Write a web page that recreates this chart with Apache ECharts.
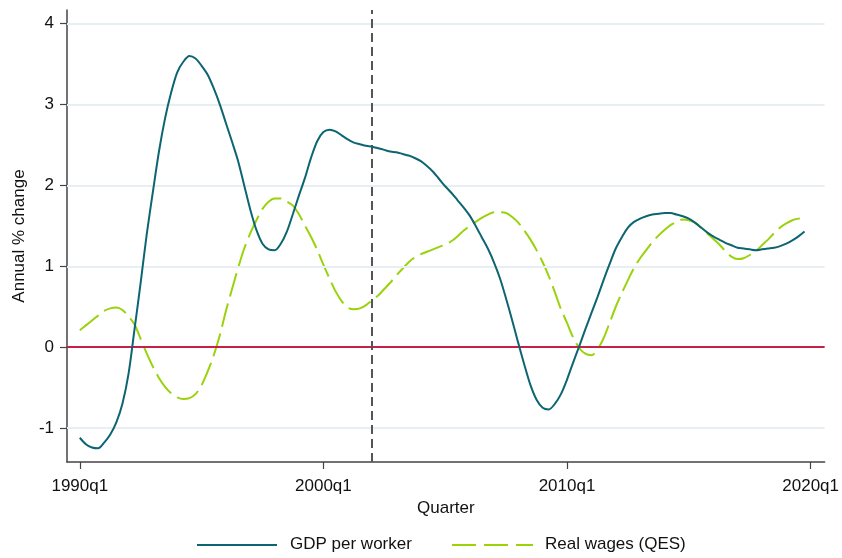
<!DOCTYPE html>
<html>
<head>
<meta charset="utf-8">
<script src="https://cdn.jsdelivr.net/npm/echarts@6/dist/echarts.min.js"></script>
<style>
html,body{margin:0;padding:0;background:#fff;}
#chart{width:842px;height:558px;}
</style>
</head>
<body>
<div id="chart"></div>
<script>
// Quarter index 0 = 1990q1
const startYear = 1990;
const tickQuarters = [0, 40, 80, 120];
const yTicks = [-1, 0, 1, 2, 3, 4];
const markerQuarter = 48; // 2002q1
const seriesNames = ['GDP per worker', 'Real wages (QES)'];

const gdpPerWorker = [
  -1.12,-1.20,-1.24,-1.25,-1.18,-1.08,-0.93,-0.70,-0.33,0.23,
  0.80,1.40,1.92,2.42,2.83,3.15,3.40,3.53,3.60,3.57,
  3.48,3.37,3.20,3.00,2.77,2.54,2.30,2.00,1.70,1.45,
  1.28,1.21,1.20,1.28,1.43,1.65,1.88,2.10,2.35,2.55,
  2.66,2.69,2.67,2.62,2.57,2.53,2.51,2.49,2.48,2.46,
  2.44,2.42,2.41,2.39,2.37,2.34,2.30,2.24,2.17,2.08,
  1.99,1.91,1.82,1.73,1.63,1.50,1.36,1.22,1.05,0.85,
  0.60,0.33,0.05,-0.22,-0.47,-0.65,-0.75,-0.77,-0.70,-0.58,
  -0.40,-0.19,0.01,0.22,0.42,0.62,0.83,1.03,1.22,1.36,
  1.48,1.55,1.59,1.62,1.64,1.65,1.66,1.66,1.64,1.62,
  1.59,1.54,1.48,1.42,1.37,1.33,1.29,1.26,1.23,1.22,
  1.21,1.20,1.21,1.22,1.23,1.25,1.28,1.32,1.37,1.43
];

const realWages = [
  0.21,0.27,0.33,0.39,0.45,0.48,0.49,0.46,0.38,0.28,
  0.10,-0.08,-0.24,-0.38,-0.49,-0.57,-0.62,-0.64,-0.63,-0.58,
  -0.47,-0.30,-0.10,0.15,0.45,0.72,0.98,1.22,1.41,1.57,
  1.71,1.80,1.84,1.84,1.80,1.75,1.64,1.50,1.36,1.20,
  1.02,0.85,0.69,0.57,0.49,0.47,0.48,0.52,0.58,0.64,
  0.72,0.80,0.89,0.97,1.05,1.11,1.15,1.18,1.21,1.24,
  1.27,1.31,1.37,1.44,1.50,1.55,1.60,1.64,1.67,1.67,
  1.66,1.61,1.54,1.44,1.33,1.20,1.05,0.88,0.68,0.47,
  0.30,0.12,-0.01,-0.08,-0.10,-0.03,0.11,0.30,0.50,0.67,
  0.83,0.98,1.10,1.20,1.30,1.38,1.45,1.51,1.55,1.58,
  1.57,1.54,1.48,1.41,1.34,1.27,1.19,1.12,1.09,1.10,
  1.14,1.19,1.26,1.33,1.41,1.48,1.53,1.57,1.59,1.60
];

function qLabel(q){
  const y = startYear + Math.floor(q/4);
  return y + 'q' + (q % 4 + 1);
}
const toPairs = arr => arr.map((v,i)=>[i,v]);

const FONT = 'Liberation Sans, Arial, sans-serif';
const TEAL = '#0d6572';
const GREEN = '#9ad20b';
const TXT = '#111';

const chart = echarts.init(document.getElementById('chart'), null, {renderer:'canvas'});
chart.setOption({
  animation:false,
  backgroundColor:'#fff',
  grid:{left:67,right:17,top:10,bottom:96,containLabel:false},
  legend:{show:false},
  graphic:[
    {type:'line',shape:{x1:197,y1:545,x2:277,y2:545},style:{stroke:TEAL,lineWidth:2}},
    {type:'text',left:290,top:536,style:{text:seriesNames[0],font:'17px Liberation Sans, Arial, sans-serif',fill:TXT}},
    {type:'line',shape:{x1:452,y1:545,x2:533,y2:545},style:{stroke:GREEN,lineWidth:2,lineDash:[24,8]}},
    {type:'text',left:545,top:536,style:{text:seriesNames[1],font:'17px Liberation Sans, Arial, sans-serif',fill:TXT}}
  ],
  xAxis:{
    type:'value',min:-2.1,max:122.3,
    name:'Quarter',nameLocation:'middle',nameGap:34,
    nameTextStyle:{fontFamily:FONT,fontSize:17,color:TXT},
    axisLine:{show:true,onZero:false,lineStyle:{color:'#444',width:1.5}},
    axisTick:{show:true,length:7,customValues:tickQuarters,lineStyle:{color:'#444',width:1.2}},
    axisLabel:{customValues:tickQuarters,formatter:v=>qLabel(v),fontFamily:FONT,fontSize:17,color:TXT,margin:16},
    splitLine:{show:false}
  },
  yAxis:{
    type:'value',min:-1.42,max:4.17,
    name:'Annual % change',nameLocation:'middle',nameGap:37,nameRotate:90,
    nameTextStyle:{fontFamily:FONT,fontSize:17,color:TXT},
    axisLine:{show:true,onZero:false,lineStyle:{color:'#444',width:1.5}},
    axisTick:{show:true,length:7,customValues:yTicks,lineStyle:{color:'#444',width:1.2}},
    axisLabel:{customValues:yTicks,fontFamily:FONT,fontSize:17,color:TXT,margin:13},
    splitLine:{show:false}
  },
  series:[
    {
      name:'grid',type:'line',data:[],z:1,silent:true,
      markLine:{silent:true,symbol:'none',label:{show:false},
        lineStyle:{color:'#e8eff2',width:2,type:'solid'},
        data:yTicks.filter(v=>v!==0).map(v=>({yAxis:v}))}
    },
    {
      name:'zero',type:'line',data:[],z:2,silent:true,
      markLine:{silent:true,symbol:'none',label:{show:false},
        lineStyle:{color:'#c61f48',width:2,type:'solid'},
        data:[{yAxis:0}]}
    },
    {
      name:'marker',type:'line',data:[],z:3,silent:true,
      markLine:{silent:true,symbol:'none',label:{show:false},
        lineStyle:{color:'#555',width:2,type:[9,5]},
        data:[{xAxis:markerQuarter}]}
    },
    {
      name:seriesNames[0],type:'line',data:toPairs(gdpPerWorker),
      showSymbol:false,symbol:'none',smooth:0.3,z:5,
      lineStyle:{color:TEAL,width:2},itemStyle:{color:TEAL}
    },
    {
      name:seriesNames[1],type:'line',data:toPairs(realWages),
      showSymbol:false,symbol:'none',smooth:0.3,z:4,
      lineStyle:{color:GREEN,width:2,type:[24,7]},itemStyle:{color:GREEN}
    }
  ]
});
</script>
</body>
</html>
